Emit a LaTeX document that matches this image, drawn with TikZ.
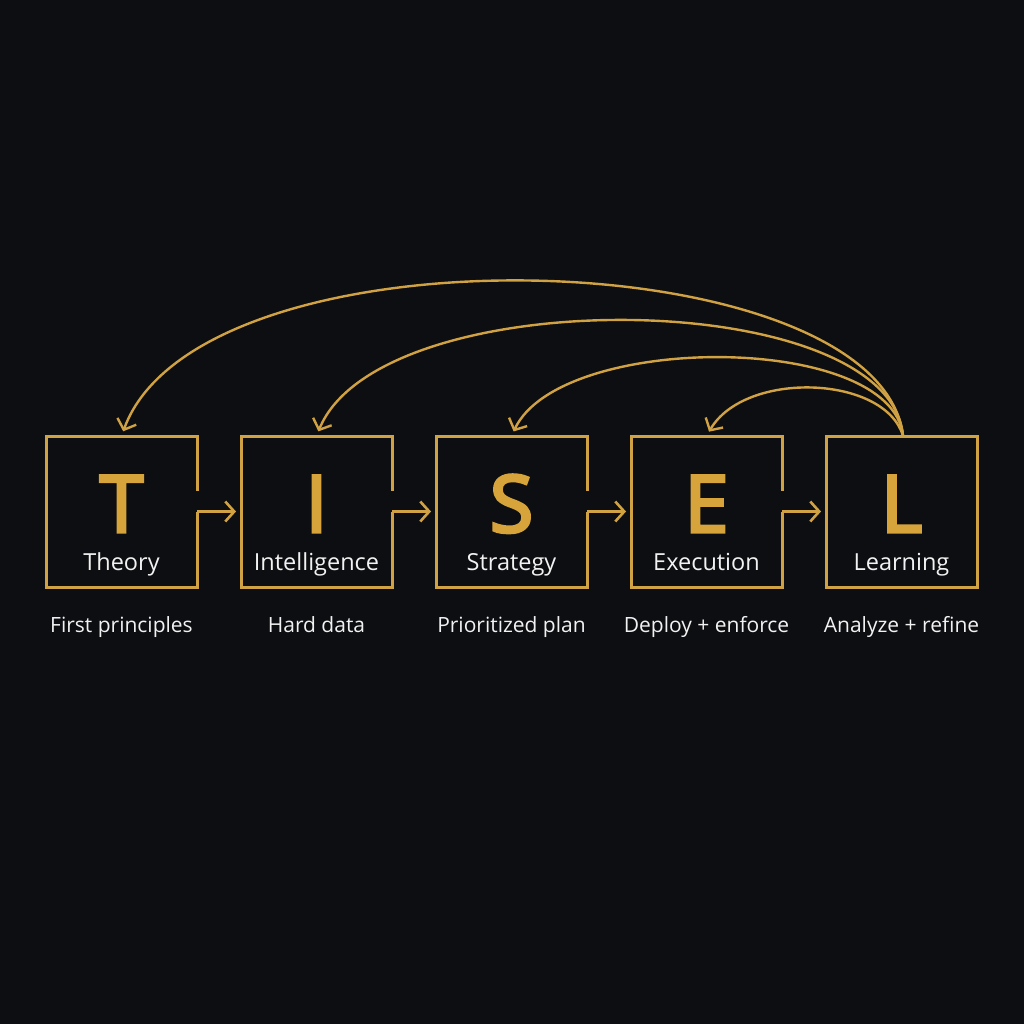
\documentclass[tikz,border=0pt]{standalone}
\usepackage{fontspec}
\setmainfont{Open Sans}
\newfontfamily\letterfont[FakeBold=4]{Open Sans}
\usetikzlibrary{arrows.meta}
\definecolor{bg}{HTML}{0D0E11}
\definecolor{gold}{HTML}{D1A243}
\definecolor{goldl}{HTML}{D6A43A}
\definecolor{txt}{HTML}{F2F2F2}
\begin{document}
\begin{tikzpicture}[x=1pt,y=-1pt,
  box/.style={minimum width=151pt,minimum height=151pt,inner sep=0pt,outer sep=0pt},
  outline/.style={draw=gold,line width=3pt,line join=miter},
  letter/.style={text=goldl,font=\letterfont\fontsize{79}{79}\selectfont,anchor=base,inner sep=0pt},
  word/.style={text=txt,font=\fontsize{23.5}{23.5}\selectfont,anchor=base,inner sep=0pt},
  sub/.style={text=txt,font=\fontsize{21}{21}\selectfont,anchor=base,inner sep=0pt},
  conn/.style={draw=gold,line width=2.6pt,-{Straight Barb[length=9pt,width=20pt,line width=2.6pt]}},
  back/.style={draw=gold,line width=2.4pt,-{Straight Barb[length=9pt,width=20pt,line width=2.4pt]},shorten >=5pt}
]
\fill[bg] (0,0) rectangle (1024,1024);
\useasboundingbox (0,0) rectangle (1024,1024);

\foreach \n/\x/\l/\w/\s in {T/121.5/T/Theory/First principles,
                            I/316.5/I/Intelligence/Hard data,
                            S/511.5/S/Strategy/Prioritized plan,
                            E/706.5/E/Execution/Deploy + enforce,
                            L/901.5/L/Learning/Analyze + refine}{
  \node[box] (\n) at (\x,511.5) {};
  \node[letter] (\n let) at (\x,532) {\l};
  \node[word] (\n word) at (\x,570) {\w};
  \node[sub] (\n sub) at (\x,632) {\s};
}

% outlines with gap on right side
\foreach \n in {T,I,S,E}{
  \draw[outline] ([yshift=21pt]\n.east) -- (\n.north east) -- (\n.north west)
     -- (\n.south west) -- (\n.south east) -- (\n.east);
}
\draw[outline] (L.north west) rectangle (L.south east);

% forward arrows
\draw[conn] (T.east) -- ([xshift=-5pt]I.west);
\draw[conn] (I.east) -- ([xshift=-5pt]S.west);
\draw[conn] (S.east) -- ([xshift=-5pt]E.west);
\draw[conn] (E.east) -- ([xshift=-5pt]L.west);

% feedback arcs
\coordinate (src) at ([xshift=1.5pt]L.north);
\draw[back] (src) .. controls (880,240) and (200,220) .. (T.north);
\draw[back] (src) .. controls (890,285) and (380,280) .. (I.north);
\draw[back] (src) .. controls (892,332) and (560,332) .. (S.north);
\draw[back] (src) .. controls (885,375) and (745,370) .. (E.north);
\end{tikzpicture}
\end{document}
